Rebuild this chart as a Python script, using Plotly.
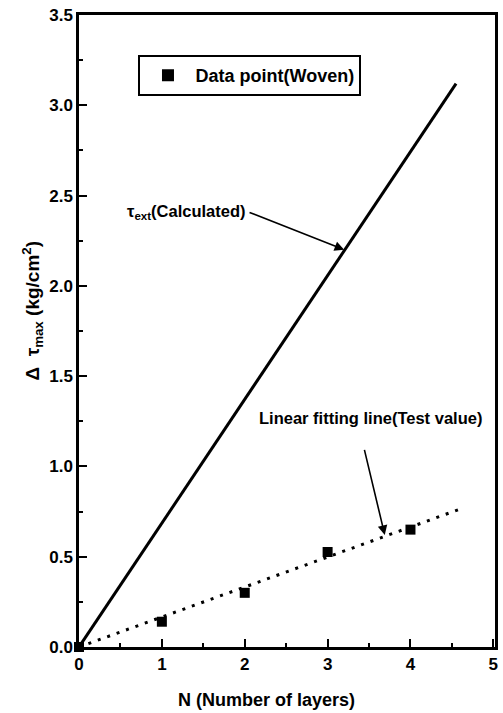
import plotly.graph_objects as go

# Data
layers = [0, 1, 2, 3, 4]
delta_tau = [0.0, 0.14, 0.30, 0.526, 0.65]

calc_x = [0, 4.55]
calc_y = [0, 3.12]

fit_x = [0, 4.6]
fit_y = [0, 0.764]

x_ticks = [0, 1, 2, 3, 4, 5]
y_ticks = [0.0, 0.5, 1.0, 1.5, 2.0, 2.5, 3.0, 3.5]

FONT = "Liberation Sans, Arial, sans-serif"

fig = go.Figure()
fig.add_trace(go.Scatter(x=calc_x, y=calc_y, mode="lines",
                         line=dict(color="black", width=3), showlegend=False,
                         cliponaxis=False))
fig.add_trace(go.Scatter(x=fit_x, y=fit_y, mode="lines",
                         line=dict(color="black", width=3, dash="3px,7px"),
                         showlegend=False, cliponaxis=False))
fig.add_trace(go.Scatter(x=layers, y=delta_tau, mode="markers",
                         marker=dict(symbol="square", size=10, color="black"),
                         name="Data point(Woven)", cliponaxis=False))

axis_common = dict(showline=True, linecolor="black", linewidth=2.5, mirror=True,
                   ticks="inside", ticklen=8, tickwidth=2, tickcolor="black",
                   showgrid=False, zeroline=False,
                   tickfont=dict(family=FONT, size=17, color="black", weight="bold"))

fig.update_xaxes(range=[0, 5.02], tickvals=x_ticks,
                 ticktext=[str(v) for v in x_ticks],
                 minor=dict(ticks="inside", ticklen=4, tickwidth=2,
                            tickcolor="black", dtick=0.5, tick0=0),
                 **axis_common)
fig.update_yaxes(range=[0, 3.5], tickvals=y_ticks,
                 ticktext=[f"{v:.1f}" for v in y_ticks],
                 minor=dict(ticks="inside", ticklen=4, tickwidth=2,
                            tickcolor="black", dtick=0.25, tick0=0),
                 **axis_common)

ann_font = dict(family=FONT, size=16.5, color="black", weight="bold")

annotations = [
    dict(x=0.56, y=2.41, xref="x", yref="y", xanchor="left", yanchor="middle",
         text="τ<sub>ext</sub>(Calculated)", showarrow=False, font=ann_font),
    dict(x=3.2, y=2.2, ax=2.04, ay=2.41, xref="x", yref="y", axref="x", ayref="y",
         text="", showarrow=True, arrowhead=2, arrowsize=1.2, arrowwidth=1.6,
         arrowcolor="black"),
    dict(x=2.15, y=1.27, xref="x", yref="y", xanchor="left", yanchor="middle",
         text="Linear fitting line(Test value)", showarrow=False, font=ann_font),
    dict(x=3.69, y=0.62, ax=3.44, ay=1.10, xref="x", yref="y", axref="x", ayref="y",
         text="", showarrow=True, arrowhead=2, arrowsize=1.2, arrowwidth=1.6,
         arrowcolor="black"),
    dict(x=0.451, y=-0.084, xref="paper", yref="paper", xanchor="center",
         yanchor="middle", text="N (Number of layers)", showarrow=False,
         font=dict(family=FONT, size=18, color="black", weight="bold")),
    dict(x=-0.112, y=0.533, xref="paper", yref="paper", xanchor="center",
         yanchor="middle", textangle=-90,
         text="Δ\u00a0\u00a0τ<sub>max</sub> (kg/cm<sup>2</sup>)", showarrow=False,
         font=dict(family=FONT, size=19, color="black", weight="bold")),
]

fig.update_layout(
    width=503, height=713,
    margin=dict(l=79, r=5, t=15, b=66),
    paper_bgcolor="white", plot_bgcolor="white",
    font=dict(family=FONT, color="black"),
    showlegend=True,
    legend=dict(x=0.143, y=0.904, xanchor="left", yanchor="middle",
                bordercolor="black", borderwidth=2, bgcolor="white",
                font=dict(family=FONT, size=18, color="black", weight="bold"),
                itemwidth=45, itemsizing="constant"),
    annotations=annotations,
)

fig.write_html("out.html")
